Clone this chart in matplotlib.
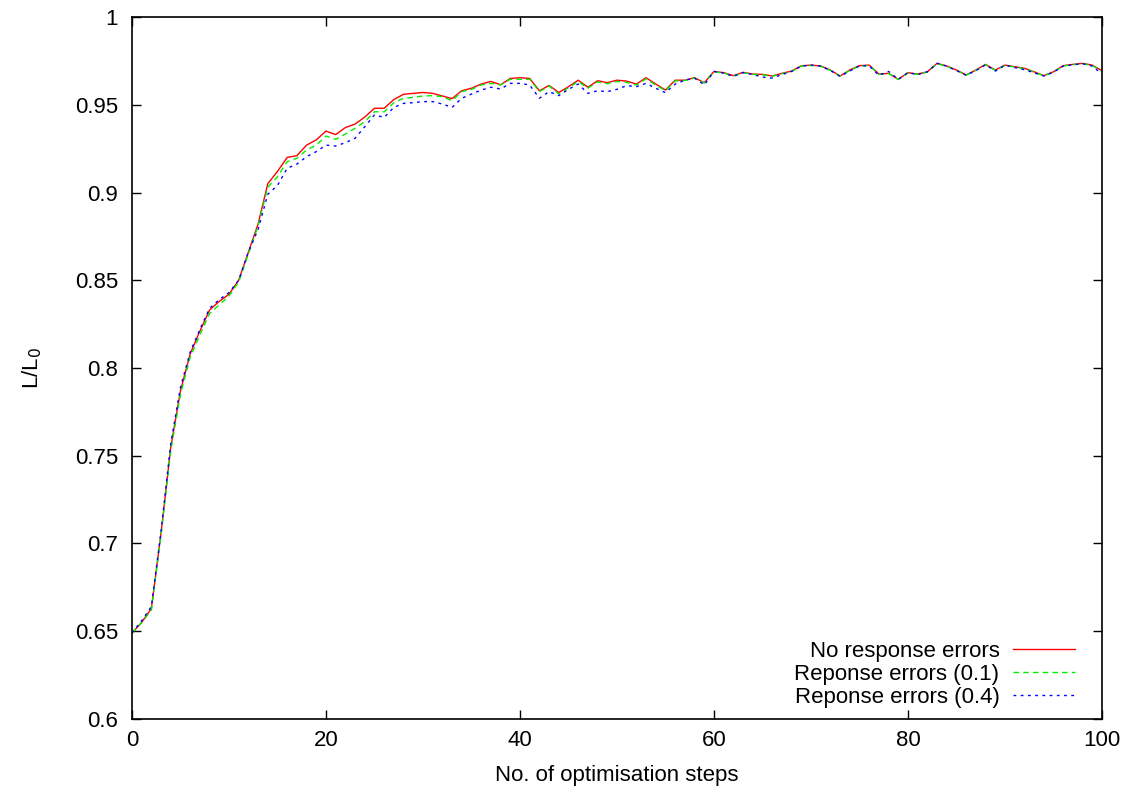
# Luminosity ratio L/L0 against number of optimisation steps, three error cases
import numpy as np
import matplotlib
matplotlib.use("Agg")
import matplotlib.pyplot as plt
from matplotlib.ticker import FuncFormatter

# optimisation steps 0..100
steps = list(range(0, 101))

# no response errors (red, solid)
no_errors = [
    0.649, 0.655, 0.663, 0.706, 0.755, 0.787, 0.808, 0.821, 0.833, 0.838,
    0.842, 0.850, 0.866, 0.882, 0.905, 0.912, 0.920, 0.921, 0.927, 0.930,
    0.935, 0.933, 0.937, 0.939, 0.943, 0.948, 0.948, 0.953, 0.956, 0.9565,
    0.957, 0.9565, 0.955, 0.9535, 0.958, 0.9594, 0.9618, 0.9633, 0.9614, 0.965,
    0.9654, 0.965, 0.958, 0.961, 0.957, 0.9603, 0.964, 0.960, 0.9637, 0.9626,
    0.964, 0.9635, 0.9618, 0.9654, 0.9618, 0.9584, 0.964, 0.964, 0.9654, 0.9626,
    0.969, 0.9683, 0.9666, 0.9685, 0.9675, 0.9673, 0.9664, 0.9679, 0.9692, 0.9722,
    0.9726, 0.9721, 0.9698, 0.9664, 0.9698, 0.9723, 0.9726, 0.9675, 0.9679, 0.9645,
    0.9683, 0.9675, 0.9688, 0.9736, 0.9721, 0.9698, 0.967, 0.9698, 0.973, 0.9698,
    0.9726, 0.9717, 0.9708, 0.9688, 0.9666, 0.9688, 0.9723, 0.973, 0.9736, 0.9726,
    0.9694,
]

# response errors 0.1 (green, dashed)
errors_01 = [
    0.649, 0.655, 0.662, 0.705, 0.753, 0.785, 0.806, 0.819, 0.831, 0.836,
    0.841, 0.849, 0.865, 0.881, 0.903, 0.909, 0.9176, 0.9195, 0.9242, 0.927,
    0.9322, 0.9303, 0.9333, 0.9366, 0.9404, 0.946, 0.946, 0.9512, 0.9537, 0.9542,
    0.955, 0.9552, 0.9546, 0.9523, 0.9575, 0.9588, 0.9613, 0.9622, 0.9613, 0.9645,
    0.9645, 0.9645, 0.9575, 0.9607, 0.9562, 0.9597, 0.9633, 0.9594, 0.963, 0.962,
    0.9633, 0.9628, 0.9612, 0.9648, 0.9612, 0.958, 0.9636, 0.9638, 0.9652, 0.9624,
    0.9688, 0.9681, 0.9664, 0.9683, 0.9673, 0.9671, 0.9662, 0.9677, 0.969, 0.972,
    0.9724, 0.9719, 0.9696, 0.9663, 0.9696, 0.9721, 0.9724, 0.9673, 0.9678, 0.9644,
    0.9681, 0.9673, 0.9686, 0.9734, 0.9719, 0.9696, 0.9669, 0.9696, 0.9728, 0.9696,
    0.9724, 0.9715, 0.9706, 0.9686, 0.9665, 0.9686, 0.9721, 0.9728, 0.9734, 0.9724,
    0.9690,
]

# response errors 0.4 (blue, dotted)
errors_04 = [
    0.649, 0.656, 0.664, 0.707, 0.757, 0.789, 0.809, 0.822, 0.834, 0.839,
    0.843, 0.850, 0.866, 0.879, 0.899, 0.904, 0.9138, 0.9162, 0.9204, 0.9233,
    0.927, 0.9265, 0.9284, 0.9309, 0.9375, 0.9442, 0.9428, 0.9485, 0.9508, 0.9512,
    0.9518, 0.9518, 0.9504, 0.9485, 0.9537, 0.9561, 0.9584, 0.960, 0.959, 0.9622,
    0.9622, 0.9613, 0.9537, 0.9575, 0.9552, 0.9588, 0.9618, 0.9565, 0.958, 0.9575,
    0.9588, 0.9609, 0.9603, 0.9622, 0.9594, 0.9569, 0.9618, 0.964, 0.9652, 0.9613,
    0.969, 0.968, 0.9662, 0.9683, 0.9672, 0.9658, 0.9652, 0.9672, 0.969, 0.972,
    0.9726, 0.972, 0.9695, 0.9662, 0.9692, 0.9722, 0.9722, 0.9668, 0.969, 0.9645,
    0.9683, 0.9672, 0.9688, 0.9736, 0.972, 0.9695, 0.9668, 0.9695, 0.9728, 0.9692,
    0.9726, 0.9712, 0.970, 0.9682, 0.9664, 0.9686, 0.972, 0.9728, 0.9734, 0.972,
    0.9675,
]

labels = ["No response errors", "Reponse errors (0.1)", "Reponse errors (0.4)"]
x_ticks = [0, 20, 40, 60, 80, 100]
y_ticks = [0.6, 0.65, 0.7, 0.75, 0.8, 0.85, 0.9, 0.95, 1.0]

plt.rcParams['font.family'] = ['Liberation Sans', 'DejaVu Sans']
plt.rcParams['font.size'] = 16

fig = plt.figure(figsize=(11.27, 7.88), dpi=100)
ax = fig.add_axes([0.1171, 0.0876, 0.8607, 0.8908])

ax.plot(steps, no_errors, color='#ff0000', lw=1.0, ls='-', label=labels[0])
ax.plot(steps, errors_01, color='#00ee00', lw=1.0, ls=(0, (4, 3)), label=labels[1])
ax.plot(steps, errors_04, color='#0000ff', lw=1.0, ls=(0, (2, 3.2)), label=labels[2])

ax.set_xlim(0, 100)
ax.set_ylim(0.6, 1.0)
ax.set_xticks(x_ticks)
ax.set_yticks(y_ticks)
ax.yaxis.set_major_formatter(FuncFormatter(lambda v, p: '%g' % v))

# gnuplot style: ticks inside and mirrored on all four sides
ax.tick_params(direction='in', length=6.5, width=1.0, top=True, right=True,
               labelsize=16)
ax.tick_params(axis='x', pad=8)
ax.tick_params(axis='y', pad=10)
for s in ax.spines.values():
    s.set_linewidth(1.2)

ax.set_xlabel("No. of optimisation steps", fontsize=16, labelpad=10)
ax.set_ylabel("L/L$_0$", fontsize=16, labelpad=22)

leg = ax.legend(loc='lower right', bbox_to_anchor=(0.979, 0.006),
                frameon=False, markerfirst=False,
                handlelength=2.8, handletextpad=0.6, labelspacing=0.1,
                borderaxespad=0.0, borderpad=0.3, fontsize=16)
for t in leg.get_texts():
    t.set_ha('right')

fig.savefig("out.png", dpi=100)
